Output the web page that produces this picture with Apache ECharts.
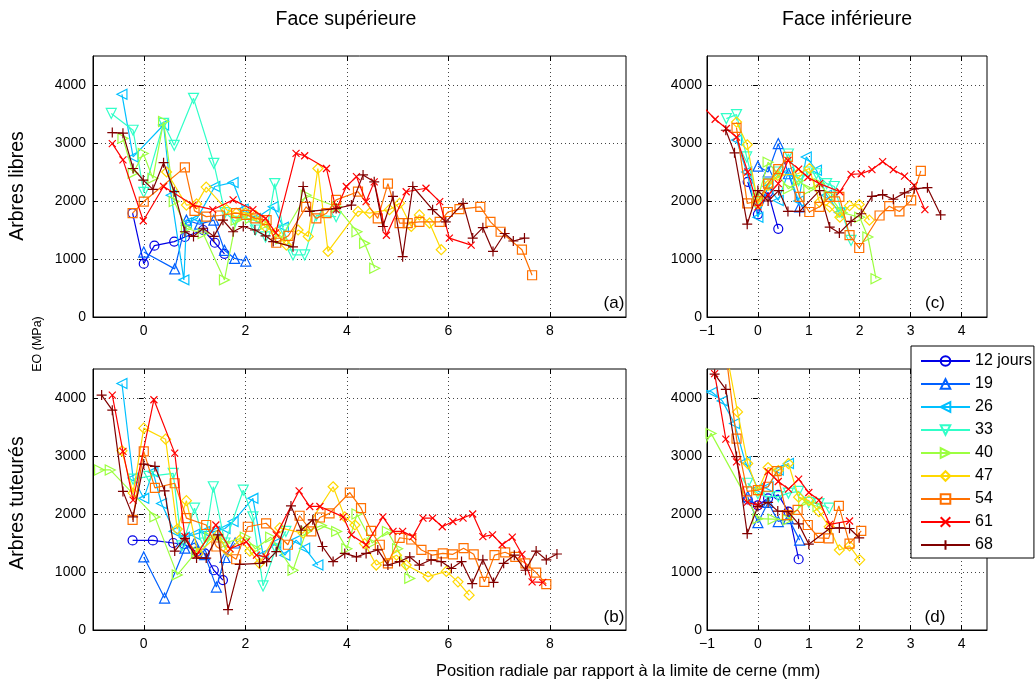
<!DOCTYPE html>
<html>
<head>
<meta charset="utf-8">
<script src="https://cdn.jsdelivr.net/npm/echarts@6/dist/echarts.min.js"></script>
<style>
  html, body { margin: 0; padding: 0; background: #fff; }
  #chart { width: 1035px; height: 679px; }
</style>
</head>
<body>
<div id="chart"></div>
<script>
// noms des séries (âge en jours)
const seriesNames = ['12 jours', '19', '26', '33', '40', '47', '54', '61', '68'];
const yTicks = [0, 1000, 2000, 3000, 4000];
const xTicksSup = [0, 2, 4, 6, 8];
const xTicksInf = [-1, 0, 1, 2, 3, 4];

// (a) face supérieure - arbres libres
const a12 = [[-0.22,1790],[0,920],[0.21,1230],[0.6,1300],[0.81,1380],[1.17,1500],[1.4,1280],[1.59,1090]];
const a19 = [[0,1120],[0.61,830],[0.84,1670],[1.1,1600],[1.38,1670],[1.59,1150],[1.79,1010],[2.01,965]];
const a26 = [[-0.43,3840],[-0.21,2760],[0.39,3310],[0.54,2100],[0.79,640],[0.84,1620],[1.05,1700],[1.4,2250],[1.76,2320],[1.96,1860],[2.2,1700],[2.55,1900],[2.75,1550]];
const a33 = [[-0.64,3510],[-0.21,3220],[0,2150],[0.39,3340],[0.6,2960],[0.98,3770],[1.38,2650],[1.6,1800],[1.8,1650],[2.0,1750],[2.2,1500],[2.4,1380],[2.58,2300],[2.75,1500],[2.94,1070],[3.17,1070],[3.4,1750],[3.79,1730]];
const a40 = [[-0.41,3080],[-0.21,2480],[-0.01,2820],[0.18,2390],[0.39,3370],[0.6,1990],[0.84,1530],[1.17,1440],[1.59,640],[1.82,1670],[2.1,1700],[2.4,1600],[2.7,1350],[3.2,2100],[3.8,1900],[4.2,1470],[4.35,1270],[4.55,840]];
const a47 = [[0.45,2500],[0.84,1930],[1.04,1950],[1.23,2240],[1.63,1850],[1.82,1790],[2.0,1800],[2.2,1750],[2.4,1550],[2.6,1450],[2.81,1240],[3.04,1500],[3.24,1390],[3.43,2560],[3.63,1130],[4.22,1820],[4.45,1790],[4.84,1850],[5.04,1960],[5.27,1560],[5.43,1760],[5.63,1620],[5.86,1160]];
const a54 = [[-0.22,1790],[0,1990],[0.81,2580],[1.0,1830],[1.23,1730],[1.5,1750],[1.82,1790],[2.02,1760],[2.2,1700],[2.42,1670],[2.61,1280],[2.85,1400],[3.2,1900],[3.4,1700],[3.6,1790],[3.79,2020],[4.22,2160],[4.61,1700],[4.81,2300],[5.04,1620],[5.2,1620],[5.43,1640],[5.83,1640],[5.99,1810],[6.22,1860],[6.63,1900],[6.83,1640],[7.03,1470],[7.45,1160],[7.65,720]];
const a61 = [[-0.62,2990],[-0.41,2710],[-0.01,1660],[0.39,2250],[0.97,1930],[1.36,1850],[1.76,2020],[2.15,1850],[2.4,1700],[2.6,1450],[3.0,2820],[3.17,2780],[3.6,2560],[3.79,1850],[3.99,2250],[4.19,2420],[4.38,1990],[4.54,2330],[4.78,1410],[5.17,2160],[5.56,2220],[5.83,1990],[6.02,1360],[6.45,1240]];
const a68 = [[-0.62,3180],[-0.41,3170],[-0.21,2560],[-0.01,2360],[0.18,2200],[0.39,2660],[0.6,2160],[0.81,1470],[0.98,1390],[1.17,1530],[1.38,1390],[1.56,1670],[1.76,1470],[1.96,1560],[2.19,1500],[2.4,1400],[2.55,1300],[2.94,1210],[3.14,2250],[3.27,1820],[3.79,1870],[4.09,1930],[4.32,2450],[4.54,2330],[4.71,1560],[4.91,2080],[5.1,1040],[5.3,2250],[5.69,1850],[5.95,1640],[6.29,1960],[6.48,1360],[6.68,1540],[6.88,1130],[7.11,1440],[7.28,1310],[7.5,1360]];

// (c) face inférieure - arbres libres
const c12 = [[-0.2,2330],[0,1770],[0.2,2150],[0.4,1520]];
const c19 = [[0,2600],[0.2,2500],[0.4,2990],[0.6,2470],[0.82,1900]];
const c26 = [[-0.42,3050],[-0.22,2500],[0,1720],[0.2,2250],[0.4,2010],[0.6,2500],[0.8,2000],[0.95,2760],[1.15,2530],[1.35,2100],[1.6,1800]];
const c33 = [[-0.62,3420],[-0.42,3490],[-0.22,2760],[0,1980],[0.2,2300],[0.4,2500],[0.6,2810],[0.8,2350],[1.0,2500],[1.15,2470],[1.35,2300],[1.5,2250],[1.65,1800],[1.83,1320]];
const c40 = [[0,2050],[0.2,2670],[0.4,2450],[0.6,2210],[0.8,2350],[1.0,2200],[1.2,2300],[1.4,2100],[1.65,1800],[2.0,1720],[2.16,1380],[2.32,660]];
const c47 = [[-0.42,3360],[-0.21,2970],[0,1950],[0.2,2270],[0.39,2440],[0.78,2470],[1.01,2560],[1.21,1980],[1.41,1900],[1.61,1720],[1.8,1920],[1.99,1940],[2.19,1670]];
const c54 = [[-0.42,3260],[-0.21,1960],[0,2000],[0.2,2300],[0.4,2550],[0.59,2760],[0.82,2070],[1.01,1810],[1.21,1900],[1.41,2070],[1.6,2070],[1.8,1410],[1.99,1190],[2.39,1750],[2.58,1910],[2.78,1820],[3.01,2010],[3.2,2520]];
const c61 = [[-1.05,3600],[-0.84,3410],[-0.62,3250],[-0.42,3100],[-0.2,2500],[0,1900],[0.2,2100],[0.4,2300],[0.59,2700],[0.8,2550],[0.98,2410],[1.21,2300],[1.61,2160],[1.83,2460],[2.03,2470],[2.24,2540],[2.45,2680],[2.66,2540],[2.88,2430],[3.07,2270],[3.28,1850]];
const c68 = [[-0.63,3220],[-0.46,2830],[-0.21,1600],[0,2180],[0.2,2000],[0.41,2180],[0.59,1820],[0.82,1820],[1.21,2180],[1.41,1550],[1.6,1450],[1.83,1650],[2.03,1780],[2.24,2080],[2.45,2110],[2.66,2030],[2.88,2140],[3.07,2210],[3.33,2230],[3.59,1760]];

// (b) face supérieure - arbres tuteurés
const b12 = [[-0.22,1545],[0.18,1545],[0.58,1500],[0.8,1480],[1.04,1350],[1.2,1320],[1.38,1030],[1.56,860]];
const b19 = [[0,1260],[0.41,550],[0.81,1410],[1.0,1500],[1.2,1300],[1.43,740],[1.6,1250],[1.8,1500]];
const b26 = [[-0.43,4250],[-0.21,2620],[0,2270],[0.18,2730],[0.35,2180],[0.6,1700],[0.8,1600],[1.0,1650],[1.2,1700],[1.4,1700],[1.6,1750],[1.76,1870],[2.15,2270],[2.35,1300],[2.6,1500],[2.78,1290],[3.0,1550],[3.17,1410],[3.43,1120]];
const b33 = [[-0.21,2600],[0.1,2650],[0.58,2700],[0.75,1450],[1.0,2100],[1.2,1500],[1.37,2470],[1.6,1500],[1.96,2410],[2.15,1950],[2.35,760],[2.6,1400],[2.8,1700]];
const b40 = [[-0.87,2760],[-0.66,2760],[0.22,1950],[0.66,950],[1.04,1350],[1.3,1600],[1.6,1500],[2.0,1600],[2.2,1400],[2.5,1600],[2.94,1030],[3.2,1700],[3.5,1800],[3.8,1700],[4.0,1400],[4.2,2000],[4.5,1500],[4.8,1700],[5.0,1400],[5.24,890]];
const b47 = [[-0.43,3090],[-0.21,2360],[0,3480],[0.43,3290],[0.66,1740],[0.84,2230],[1.07,1320],[1.46,1640],[1.66,1350],[1.89,1550],[2.09,1360],[2.28,1150],[2.68,1760],[3.14,1670],[3.73,2470],[3.96,1950],[4.16,1810],[4.35,1490],[4.58,1120],[4.98,1290],[5.17,1120],[5.6,920],[5.96,1010],[6.19,830],[6.41,600]];
const b54 = [[-0.22,1900],[0,3080],[0.22,2450],[0.61,2530],[0.84,1930],[1.23,1810],[1.43,1440],[1.82,1220],[2.05,1780],[2.41,1840],[2.84,1470],[3.07,1970],[3.3,1700],[3.47,1940],[3.66,2010],[4.06,2370],[4.28,2100],[4.48,1710],[4.65,1470],[4.81,1150],[5.04,1590],[5.27,1560],[5.47,1380],[5.69,1290],[5.89,1320],[6.09,1305],[6.3,1410],[6.5,1305],[6.71,830],[6.91,1290],[7.12,1340],[7.32,1260],[7.52,1150],[7.73,990],[7.93,790]];
const b61 = [[-0.62,4050],[-0.41,3080],[-0.21,2240],[0.2,3970],[0.61,3050],[0.81,1610],[1.04,1290],[1.42,1810],[1.7,1400],[2.02,1520],[2.22,1290],[2.41,1260],[2.61,1640],[3.06,2400],[3.27,2130],[3.47,2130],[3.93,1950],[4.09,1640],[4.38,1470],[4.71,1950],[4.91,1700],[5.1,1700],[5.3,1610],[5.5,1930],[5.69,1930],[5.88,1780],[6.09,1870],[6.29,1930],[6.48,2000],[6.68,1610],[6.87,1640],[7.06,1470],[7.26,1600],[7.45,1305],[7.65,830],[7.86,820]];
const b68 = [[-0.83,4050],[-0.62,3790],[-0.41,2390],[-0.21,1950],[0,2860],[0.22,2820],[0.41,2400],[0.61,1360],[0.81,1580],[1.04,1240],[1.23,1240],[1.46,1640],[1.66,350],[1.89,1130],[2.28,1150],[2.42,1180],[2.61,1350],[2.9,2140],[3.1,1720],[3.33,1900],[3.52,1440],[3.73,1180],[3.96,1320],[4.19,1260],[4.38,1320],[4.61,1380],[4.81,1120],[5.04,1180],[5.24,1260],[5.43,1120],[5.66,1210],[5.86,1180],[6.06,1060],[6.26,1180],[6.47,800],[6.68,1210],[6.89,820],[7.09,1150],[7.3,1290],[7.52,1030],[7.73,1360],[7.93,1210],[8.14,1310]];

// (d) face inférieure - arbres tuteurés
const d12 = [[-0.2,2250],[0,2150],[0.2,2270],[0.4,2330],[0.6,2040],[0.8,1220]];
const d19 = [[-0.2,2300],[0,1850],[0.2,2200],[0.4,1870],[0.6,1920],[0.82,1550]];
const d26 = [[-1.1,4150],[-0.9,4100],[-0.7,3950],[-0.46,3560],[-0.25,2900],[0,2440],[0.2,2470],[0.4,2760],[0.6,2870]];
const d33 = [[-0.2,2530],[0,2350],[0.2,2300],[0.4,2300],[0.6,2360],[0.8,2390],[1.0,2200],[1.2,2180],[1.4,2100]];
const d40 = [[-1.1,3100],[-0.92,3390],[0,1920],[0.3,1910],[0.59,1900],[0.9,2200],[1.18,2130]];
const d47 = [[-0.6,4700],[-0.4,3760],[-0.2,2870],[0,2400],[0.2,2800],[0.4,2750],[0.6,2870],[0.8,2290],[1.0,2230],[1.2,2040],[1.4,1780],[1.6,1380],[1.8,1450],[2.0,1210]];
const d54 = [[-0.62,4700],[-0.42,3300],[-0.21,2390],[0,2410],[0.2,2470],[0.37,2740],[0.57,1980],[0.78,2070],[0.98,1810],[1.2,1590],[1.39,1580],[1.59,2140],[1.8,1490],[2.03,1710]];
const d61 = [[-0.85,4420],[-0.63,3290],[-0.42,2900],[-0.21,2200],[0,2150],[0.2,2730],[0.4,2560],[0.6,2430],[0.8,2600],[1.0,2370],[1.2,2240],[1.41,1820],[1.8,1880]];
const d68 = [[-0.85,4410],[-0.63,4150],[-0.42,2990],[-0.21,1660],[0,2130],[0.2,2200],[0.39,2050],[0.59,2040],[0.8,1830],[1.0,1480],[1.41,1750],[1.6,1760],[1.8,1750],[1.99,1590]];

// styles
const colors = ['#0000e6', '#0060ff', '#00c0ff', '#30ffc8', '#9cff40', '#ffd800', '#ff7000', '#ff0000', '#800000'];
const symbols = ['circle', 'triangle', 'triangle', 'triangle', 'triangle', 'diamond', 'rect',
  'path://M0,0L10,10M10,0L0,10', 'path://M5,0L5,10M0,5L10,5'];
const rotations = [0, 0, 90, 180, -90, 0, 0, 0, 0];
const symSizes = [9, 10, 10, 10, 10, 10, 9, 7, 10];

const FONT = 'Liberation Sans, Arial, sans-serif';

const chart = echarts.init(document.getElementById('chart'));

function panelSeries(list, gi) {
  return list.map((d, i) => ({
    name: seriesNames[i],
    type: 'line',
    xAxisIndex: gi,
    yAxisIndex: gi,
    data: d,
    symbol: symbols[i],
    symbolSize: symSizes[i],
    symbolRotate: rotations[i],
    lineStyle: { color: colors[i], width: 1.2 },
    itemStyle: { color: 'transparent', borderColor: colors[i], borderWidth: 1.2 },
    emphasis: { disabled: true },
    clip: true,
    z: 2 + i * 0.01
  }));
}

const gridLine = { show: true, lineStyle: { color: '#444', type: [1, 3], width: 1 } };
const plain = v => (v < 0 ? '\u2212' + (-v) : String(v));

function yAxis(gi, margin) {
  return {
    type: 'value', gridIndex: gi, min: 0, max: 4500, interval: 1000,
    axisLine: { show: true, onZero: false, lineStyle: { color: '#000' } },
    axisTick: { show: true, inside: true, length: 5, lineStyle: { color: '#000' }, customValues: yTicks },
    axisLabel: { color: '#000', fontSize: 14, fontFamily: FONT, margin: margin,
      customValues: yTicks, formatter: plain },
    splitLine: gridLine
  };
}

// graduations en miroir (côté droit)
function yMirror(gi) {
  return {
    type: 'value', gridIndex: gi, min: 0, max: 4500, position: 'right',
    axisLine: { show: false },
    axisTick: { show: true, inside: true, length: 5, lineStyle: { color: '#000' }, customValues: yTicks },
    axisLabel: { show: false },
    splitLine: { show: false }
  };
}

function xAxisSup(gi, top) {
  return {
    type: 'value', gridIndex: gi, min: -1, max: 9.5, interval: 1, position: top ? 'top' : 'bottom',
    axisLine: { show: !top, onZero: false, lineStyle: { color: '#000' } },
    axisTick: { show: true, inside: true, length: 5, lineStyle: { color: '#000' }, customValues: xTicksSup },
    axisLabel: { show: !top, color: '#000', fontSize: 14, fontFamily: FONT, margin: 7,
      customValues: xTicksSup, formatter: plain },
    splitLine: top ? { show: false } : gridLine
  };
}

function xAxisInf(gi, top) {
  return {
    type: 'value', gridIndex: gi, min: -1, max: 4.5, interval: 1, position: top ? 'top' : 'bottom',
    axisLine: { show: !top, onZero: false, lineStyle: { color: '#000' } },
    axisTick: { show: true, inside: true, length: 5, lineStyle: { color: '#000' }, customValues: xTicksInf },
    axisLabel: { show: !top, color: '#000', fontSize: 14, fontFamily: FONT, margin: 7,
      customValues: xTicksInf, formatter: plain },
    splitLine: top ? { show: false } : gridLine
  };
}

const gridBox = { show: true, borderColor: '#000', borderWidth: 1, backgroundColor: 'transparent', containLabel: false };

function txt(x, y, text, size, rot) {
  return {
    type: 'text', x: x, y: y, rotation: rot || 0, silent: true, z: 20,
    style: { text: text, fill: '#000', fontSize: size, fontFamily: FONT,
      align: 'center', verticalAlign: 'middle', textAlign: 'center', textVerticalAlign: 'middle' }
  };
}

const option = {
  animation: false,
  backgroundColor: '#fff',
  textStyle: { fontFamily: FONT },
  grid: [
    Object.assign({ left: 93, top: 56, width: 533, height: 261 }, gridBox),
    Object.assign({ left: 707, top: 56, width: 280, height: 261 }, gridBox),
    Object.assign({ left: 93, top: 369, width: 533, height: 261 }, gridBox),
    Object.assign({ left: 707, top: 369, width: 280, height: 261 }, gridBox)
  ],
  xAxis: [xAxisSup(0), xAxisInf(1), xAxisSup(2), xAxisInf(3),
          xAxisSup(0, true), xAxisInf(1, true), xAxisSup(2, true), xAxisInf(3, true)],
  yAxis: [yAxis(0, 7), yAxis(1, 5), yAxis(2, 7), yAxis(3, 5),
          yMirror(0), yMirror(1), yMirror(2), yMirror(3)],
  legend: {
    data: seriesNames,
    orient: 'vertical',
    left: 911, top: 346,
    itemWidth: 49, itemHeight: 12, itemGap: 7,
    padding: [7, 2, 5, 9],
    backgroundColor: '#fff', borderColor: '#000', borderWidth: 1, borderRadius: 0,
    textStyle: { fontSize: 16, lineHeight: 16, color: '#000', fontFamily: FONT },
    selectedMode: false,
    z: 10
  },
  graphic: [
    txt(346, 20, 'Face supérieure', 19.5),
    txt(847, 20, 'Face inférieure', 19.5),
    txt(18, 186, 'Arbres libres', 19.5, Math.PI / 2),
    txt(18, 503, 'Arbres tuteurés', 19.5, Math.PI / 2),
    txt(38, 344, 'EO (MPa)', 12.5, Math.PI / 2),
    txt(628, 671, 'Position radiale par rapport à la limite de cerne (mm)', 16.5),
    txt(614, 303, '(a)', 17),
    txt(614, 617, '(b)', 17),
    txt(935, 303, '(c)', 17),
    txt(935, 617, '(d)', 17)
  ],
  series: [].concat(
    panelSeries([a12, a19, a26, a33, a40, a47, a54, a61, a68], 0),
    panelSeries([c12, c19, c26, c33, c40, c47, c54, c61, c68], 1),
    panelSeries([b12, b19, b26, b33, b40, b47, b54, b61, b68], 2),
    panelSeries([d12, d19, d26, d33, d40, d47, d54, d61, d68], 3)
  )
};

chart.setOption(option);
</script>
</body>
</html>
